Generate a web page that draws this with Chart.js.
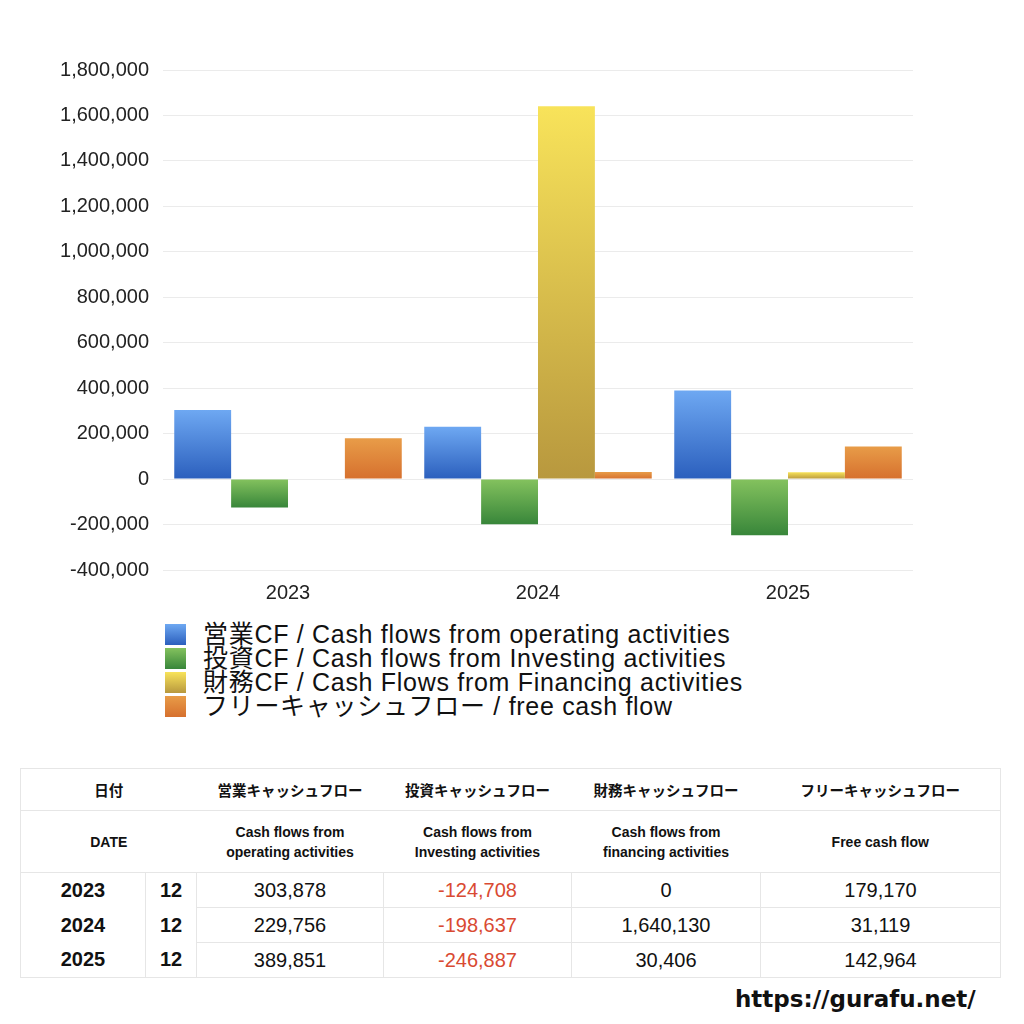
<!DOCTYPE html>
<html><head><meta charset="utf-8">
<script src="https://cdn.jsdelivr.net/npm/chart.js@4/dist/chart.umd.min.js"></script>
<style>
html,body{margin:0;padding:0;background:#fff;width:1024px;height:1024px;overflow:hidden;font-family:"Liberation Sans","Noto Sans CJK JP",sans-serif;color:#111;}
#wrap{position:absolute;left:0;top:0;width:1024px;height:600px;}
#legend{position:absolute;left:165px;top:622px;font-size:25px;line-height:24px;letter-spacing:0.7px;}
#legend div{display:flex;align-items:center;height:24px;white-space:nowrap;}
#legend span.b{display:inline-block;width:21px;height:21px;margin-right:17px;flex:none;}
table{position:absolute;left:20px;top:768px;width:980px;border-collapse:collapse;table-layout:fixed;border:1px solid #e6e6e6;}
td{text-align:center;padding:0;border:1px solid #e6e6e6;}
tr.h1 td{height:41px;font-size:14.5px;font-weight:bold;border-left:none;border-right:none;}
tr.h2 td{height:61px;font-size:14px;font-weight:bold;line-height:20px;border-left:none;border-right:none;}
tr.d td{height:34px;font-size:20px;}
td.y{font-weight:bold;font-size:21px;}
td.m{font-weight:bold;font-size:21px;}
td.neg{color:#d94a32;}
#url{position:absolute;left:735px;top:986px;font-size:23px;font-weight:bold;font-family:"DejaVu Sans","Noto Sans",sans-serif;}
</style></head><body>
<div id="wrap"><canvas id="c"></canvas></div>
<div id="legend"></div>
<table id="tbl"></table>
<div id="url">https://gurafu.net/</div>
<script>
const categories = ["2023","2024","2025"];
const months = ["12","12","12"];
const operatingCF = [303878, 229756, 389851];
const investingCF = [-124708, -198637, -246887];
const financingCF = [0, 1640130, 30406];
const freeCF = [179170, 31119, 142964];
const seriesLabels = [
  "営業CF / Cash flows from operating activities",
  "投資CF / Cash flows from Investing activities",
  "財務CF / Cash Flows from Financing activities",
  "フリーキャッシュフロー / free cash flow"
];
const tableHeadJa = ["営業キャッシュフロー","投資キャッシュフロー","財務キャッシュフロー","フリーキャッシュフロー"];
const tableHeadEn = ["Cash flows from<br>operating activities","Cash flows from<br>Investing activities","Cash flows from<br>financing activities","Free cash flow"];
const yTicks = [-400000,-200000,0,200000,400000,600000,800000,1000000,1200000,1400000,1600000,1800000];

const gradStops = [
  ["#6ea8f2","#2b5fbd"],
  ["#84c25e","#38863a"],
  ["#f8e35a","#b8983e"],
  ["#e89c48","#d6702e"]
];
function gradFor(i){
  return function(ctx){
    const chart = ctx.chart;
    const ys = chart.scales && chart.scales.y;
    if(!ys || ctx.type!=="data" || ctx.raw==null) return gradStops[i][0];
    const p1 = ys.getPixelForValue(ctx.raw), p0 = ys.getPixelForValue(0);
    if(!isFinite(p1) || !isFinite(p0)) return gradStops[i][0];
    const top = Math.min(p1,p0), bot = Math.max(p1,p0);
    if (bot-top < 1) return gradStops[i][0];
    const g = chart.ctx.createLinearGradient(0,top,0,bot);
    g.addColorStop(0,gradStops[i][0]); g.addColorStop(1,gradStops[i][1]);
    return g;
  };
}
const dataArrays=[operatingCF,investingCF,financingCF,freeCF];
const datasets = dataArrays.map((d,i)=>({label:seriesLabels[i],data:d,backgroundColor:gradFor(i),borderWidth:0,categoryPercentage:0.91,barPercentage:1.0}));

// legend
const lg=document.getElementById('legend');
seriesLabels.forEach((t,i)=>{
  const d=document.createElement('div');
  d.innerHTML='<span class="b" style="background:linear-gradient('+gradStops[i][0]+','+gradStops[i][1]+')"></span>'+t;
  lg.appendChild(d);
});
// table
const fmt=v=>v.toLocaleString('en-US');
let h='<colgroup><col style="width:125px"><col style="width:51px"><col style="width:187px"><col style="width:188px"><col style="width:189px"><col style="width:240px"></colgroup>';
h+='<tr class="h1"><td colspan="2">日付</td>'+tableHeadJa.map(t=>'<td>'+t+'</td>').join('')+'</tr>';
h+='<tr class="h2"><td colspan="2">DATE</td>'+tableHeadEn.map(t=>'<td>'+t+'</td>').join('')+'</tr>';
categories.forEach((c,i)=>{
  const bt = i<categories.length-1 ? 'border-bottom:none;' : '';
  const tp = i>0 ? 'border-top:none;' : '';
  h+='<tr class="d"><td class="y" style="'+bt+tp+'">'+c+'</td><td class="m" style="'+bt+tp+'">'+months[i]+'</td>';
  [operatingCF[i],investingCF[i],financingCF[i],freeCF[i]].forEach(v=>{
    h+='<td'+(v<0?' class="neg"':'')+'>'+fmt(v)+'</td>';
  });
  h+='</tr>';
});
document.getElementById('tbl').innerHTML=h;

const tickFont={size:20,family:'"Liberation Sans","Noto Sans",sans-serif'};
new Chart(document.getElementById('c'),{
  type:'bar',
  data:{labels:categories,datasets},
  options:{
    responsive:true,maintainAspectRatio:false,animation:false,
    layout:{padding:{top:70,right:111,bottom:0,left:0}},
    plugins:{legend:{display:false},tooltip:{enabled:false}},
    scales:{
      x:{grid:{display:false},border:{display:false},
         ticks:{color:'#222',font:tickFont,padding:3},
         afterFit:(a)=>{a.height=30;}},
      y:{min:-400000,max:1800000,
         afterBuildTicks:(a)=>{a.ticks=yTicks.map(v=>({value:v}));},
         grid:{color:'#ebebeb',drawTicks:false},border:{display:false},
         ticks:{color:'#222',padding:14,font:tickFont,callback:(v)=>Number(v).toLocaleString('en-US')},
         afterFit:(a)=>{a.width=163;}}
    }
  }
});
</script>
</body></html>
